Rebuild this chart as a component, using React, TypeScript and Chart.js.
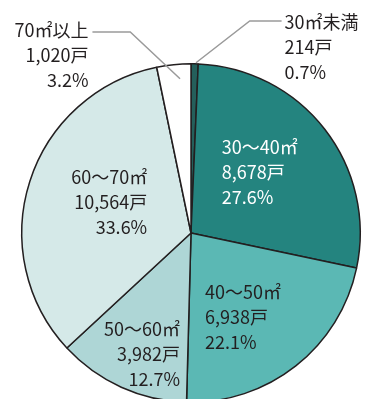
import React, { useEffect, useRef } from "react";
import { Chart, registerables } from "chart.js";

Chart.register(...registerables);

const categories = ["30㎡未満", "30〜40㎡", "40〜50㎡", "50〜60㎡", "60〜70㎡", "70㎡以上"];
const units = [214, 8678, 6938, 3982, 10564, 1020];
const sliceColors = ["#245f5b", "#24847f", "#5bb8b4", "#aed6d6", "#d5e9e8", "#ffffff"];
const textColors = ["#231f20", "#ffffff", "#231f20", "#231f20", "#231f20", "#231f20"];

// label layout: offset of first line (relative to pie centre, in px at r=170), alignment
const labelLayout = [
  { dx: 94, dy: -212, align: "left" },
  { dx: 31, dy: -86, align: "left" },
  { dx: 14, dy: 59, align: "left" },
  { dx: -11, dy: 97, align: "right" },
  { dx: -44, dy: -56, align: "right" },
  { dx: -103, dy: -204, align: "right" },
];
// leader lines (relative to centre, px at r=170)
const leaders: { index: number; pts: [number, number][] }[] = [
  { index: 0, pts: [[5, -171], [59, -213], [91, -213]] },
  { index: 5, pts: [[-11, -155], [-61, -202], [-99, -202]] },
];

const LINE_GAP = 25;
const FONT = '18px "Noto Sans CJK JP", "Noto Sans", sans-serif';

export default function App() {
  const ref = useRef<HTMLCanvasElement | null>(null);
  useEffect(() => {
    document.body.style.overflow = "hidden";
    const total = units.reduce((a, b) => a + b, 0);
    const labelPlugin = {
      id: "pieLabels",
      afterDatasetsDraw(chart: any) {
        const meta = chart.getDatasetMeta(0);
        const arc = meta.data[0];
        const cx = arc.x;
        const cy = arc.y;
        const s = arc.outerRadius / 170;
        const ctx = chart.ctx;
        ctx.save();
        ctx.strokeStyle = "#9a9a9a";
        ctx.lineWidth = 1.5;
        leaders.forEach((l) => {
          ctx.beginPath();
          l.pts.forEach(([x, y], i) => {
            const px = cx + x * s;
            const py = cy + y * s;
            if (i === 0) ctx.moveTo(px, py);
            else ctx.lineTo(px, py);
          });
          ctx.stroke();
        });
        ctx.font = FONT;
        ctx.textBaseline = "middle";
        categories.forEach((cat, i) => {
          const lay = labelLayout[i];
          const lines = [
            cat,
            units[i].toLocaleString("en-US") + "戸",
            ((units[i] / total) * 100).toFixed(1) + "%",
          ];
          ctx.fillStyle = textColors[i];
          ctx.textAlign = lay.align;
          lines.forEach((t, j) => {
            ctx.fillText(t, cx + lay.dx * s, cy + lay.dy * s + j * LINE_GAP);
          });
        });
        ctx.restore();
      },
    };
    const chart = new Chart(ref.current!, {
      type: "pie",
      data: {
        labels: categories,
        datasets: [
          {
            data: units,
            backgroundColor: sliceColors,
            borderColor: "#231f20",
            borderWidth: 1.5,
          },
        ],
      },
      options: {
        animation: false,
        responsive: false,
        maintainAspectRatio: false,
        layout: { padding: { left: 21, right: 5, top: 63, bottom: 67 } },
        plugins: { legend: { display: false }, tooltip: { enabled: false } },
      },
      plugins: [labelPlugin],
    });
    return () => chart.destroy();
  }, []);
  return (
    <div style={{ position: "fixed", left: 0, top: 0, width: 366, height: 470, background: "#ffffff" }}>
      <canvas ref={ref} width={366} height={470} style={{ width: 366, height: 470, display: "block" }} />
    </div>
  );
}
